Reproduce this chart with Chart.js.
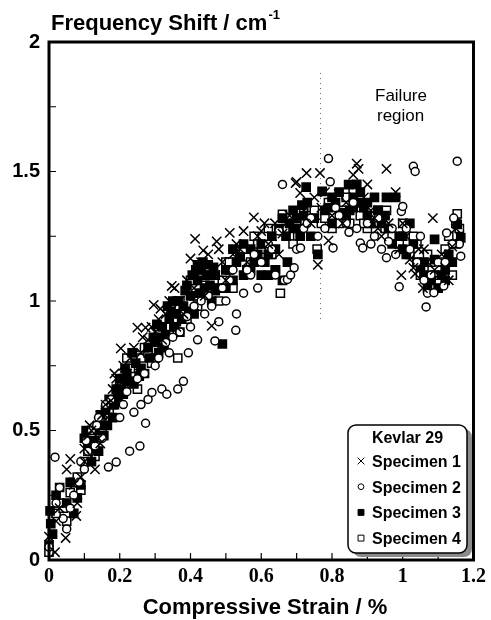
<!DOCTYPE html>
<html>
<head>
<meta charset="utf-8">
<script src="https://cdn.jsdelivr.net/npm/chart.js@4.4.1/dist/chart.umd.min.js"></script>
<style>
  html, body { margin: 0; padding: 0; background: #fff; }
  #chart { display: block; }
</style>
</head>
<body>
<canvas id="chart" width="491" height="620"></canvas>
<script>
// Raman band shift vs compressive strain, Kevlar 29 fibres, four specimens
const seriesNames = ['Specimen 1', 'Specimen 2', 'Specimen 3', 'Specimen 4'];
const legendTitle = 'Kevlar 29';
const minorX = [0.1, 0.2, 0.3, 0.4, 0.5, 0.6, 0.7, 0.8, 0.9, 1.0, 1.1];
const minorY = [0.25, 0.5, 0.75, 1, 1.25, 1.5, 1.75];
const failureStrain = 0.766;
const failureSpan = [0.93, 1.88];

// [strain %, shift cm-1]
const specimen1 = [
  [0.0,0.09],[0.017,0.03],[0.047,0.085],[0.02,0.15],[0.05,0.35],[0.06,0.39],[0.07,0.29],[0.077,0.17],
  [0.08,0.22],[0.09,0.32],[0.1,0.43],[0.11,0.48],[0.115,0.52],[0.12,0.40],[0.13,0.35],[0.14,0.47],
  [0.15,0.56],[0.16,0.6],[0.175,0.615],[0.18,0.66],[0.19,0.7],[0.2,0.69],[0.203,0.817],[0.21,0.75],
  [0.22,0.72],[0.23,0.78],[0.25,0.897],[0.26,0.8],[0.273,0.897],[0.28,0.85],[0.296,0.985],[0.3,0.88],
  [0.31,0.93],[0.32,0.85],[0.33,0.95],[0.347,1.058],[0.35,0.97],[0.36,0.9],[0.37,1.0],[0.38,0.95],
  [0.4,1.164],[0.41,1.05],[0.413,1.24],[0.42,1.1],[0.436,1.195],[0.44,1.02],[0.46,0.904],[0.47,1.1],
  [0.474,1.23],[0.49,1.15],[0.5,1.08],[0.511,1.263],[0.52,1.18],[0.54,1.2],[0.56,1.15],[0.579,1.323],
  [0.59,1.25],[0.609,1.30],[0.62,1.22],[0.639,1.30],[0.65,1.18],[0.66,1.26],[0.68,1.33],[0.697,1.455],
  [0.70,1.46],[0.71,1.417],[0.728,1.494],[0.74,1.3],[0.76,1.14],[0.766,1.494],[0.77,1.36],[0.79,1.233],
  [0.80,1.33],[0.819,1.413],[0.83,1.3],[0.86,1.487],[0.87,1.53],[0.875,1.51],[0.89,1.4],[0.91,1.35],
  [0.93,1.28],[0.954,1.51],[0.96,1.3],[0.98,1.42],[0.99,1.2],[0.996,1.10],[1.01,1.25],[1.03,1.128],
  [1.035,1.105],[1.045,1.2],[1.057,1.05],[1.07,1.15],[1.085,1.32],[1.1,1.1],[1.12,1.13],[1.14,1.21],
  [1.16,1.25],
  [0.03,0.2],[0.1,0.38],[0.12,0.5],[0.145,0.45],[0.165,0.55],[0.185,0.72],[0.215,0.68],[0.24,0.82],
  [0.265,0.86],[0.29,0.9],[0.315,0.97],[0.34,1.0],[0.355,1.05],[0.39,1.08],[0.43,1.15],[0.45,1.18],
  [0.48,1.2],[0.53,1.22],[0.55,1.27],[0.6,1.27],[0.63,1.25],[0.67,1.3],[0.72,1.35],[0.75,1.4],
  [0.78,1.42],[0.84,1.38],[0.9,1.45],[0.92,1.32],[0.94,1.25],[1.0,1.3],[1.02,1.16],[1.06,1.2],
  [1.09,1.12],[1.11,1.18],[1.13,1.08],[1.15,1.28]
];
const specimen2 = [
  [0.0,0.05],[0.017,0.397],[0.02,0.22],[0.03,0.28],[0.05,0.12],[0.06,0.2],[0.07,0.25],[0.085,0.3],
  [0.1,0.35],[0.11,0.42],[0.12,0.5],[0.13,0.44],[0.14,0.55],[0.15,0.47],[0.16,0.6],[0.168,0.359],
  [0.19,0.378],[0.2,0.55],[0.21,0.6],[0.228,0.42],[0.24,0.57],[0.257,0.44],[0.26,0.6],[0.273,0.528],
  [0.28,0.62],[0.291,0.647],[0.3,0.75],[0.319,0.66],[0.333,0.64],[0.34,0.8],[0.35,0.86],[0.364,0.66],
  [0.38,0.69],[0.394,0.8],[0.4,0.9],[0.41,0.98],[0.42,0.85],[0.44,0.95],[0.45,1.02],[0.469,0.846],
  [0.48,0.92],[0.5,1.0],[0.51,1.08],[0.528,0.887],[0.53,0.95],[0.55,1.03],[0.57,1.1],[0.59,1.05],
  [0.6,1.15],[0.62,1.22],[0.64,1.1],[0.66,1.45],[0.665,1.08],[0.674,1.083],[0.683,1.10],[0.693,1.128],
  [0.70,1.2],[0.711,1.205],[0.72,1.28],[0.74,1.32],[0.76,1.25],[0.79,1.55],[0.795,1.46],[0.803,1.205],
  [0.82,1.33],[0.848,1.265],[0.86,1.38],[0.88,1.224],[0.887,1.205],[0.9,1.3],[0.92,1.25],[0.94,1.2],
  [0.954,1.167],[0.97,1.28],[0.99,1.055],[0.996,1.346],[1.0,1.365],[1.02,1.2],[1.03,1.52],[1.035,1.50],
  [1.05,1.25],[1.066,0.977],[1.07,1.03],[1.088,1.032],[1.1,1.15],[1.116,1.058],[1.124,1.263],[1.144,1.32],
  [1.154,1.54],[1.164,1.173],[1.16,1.22],
  [0.04,0.16],[0.09,0.38],[0.105,0.46],[0.135,0.52],[0.175,0.62],[0.22,0.65],[0.25,0.7],[0.27,0.72],
  [0.31,0.78],[0.33,0.84],[0.37,0.88],[0.39,0.94],[0.43,1.0],[0.46,0.98],[0.49,1.05],[0.52,1.12],
  [0.56,1.12],[0.58,1.18],[0.63,1.2],[0.65,1.27],[0.73,1.3],[0.78,1.28],[0.81,1.36],[0.84,1.3],
  [0.87,1.28],[0.91,1.22],[0.93,1.32],[0.96,1.23],[0.98,1.18],[1.01,1.28],[1.04,1.15],[1.06,1.08],
  [1.08,1.1],[1.12,1.15],[1.14,1.22]
];
const specimen3 = [
  [0.003,0.19],[0.005,0.14],[0.0,0.058],[0.01,0.1],[0.02,0.25],[0.03,0.28],[0.05,0.22],[0.06,0.3],
  [0.07,0.18],[0.08,0.24],[0.09,0.29],[0.1,0.47],[0.11,0.45],[0.12,0.38],[0.13,0.5],[0.14,0.42],
  [0.15,0.52],[0.16,0.58],[0.17,0.62],[0.18,0.55],[0.19,0.66],[0.2,0.7],[0.21,0.64],[0.22,0.72],
  [0.235,0.8],[0.24,0.68],[0.26,0.74],[0.27,0.72],[0.28,0.82],[0.3,0.84],[0.31,0.8],[0.32,0.9],
  [0.33,0.87],[0.34,0.93],[0.36,0.95],[0.37,0.88],[0.38,0.98],[0.4,1.02],[0.41,0.95],[0.42,1.08],
  [0.43,1.12],[0.44,1.05],[0.46,1.0],[0.47,1.1],[0.49,0.834],[0.5,1.05],[0.51,1.12],[0.53,1.15],
  [0.55,1.1],[0.57,1.2],[0.58,1.15],[0.6,1.22],[0.62,1.18],[0.63,1.25],[0.65,1.28],[0.66,1.08],
  [0.674,1.15],[0.69,1.35],[0.7,1.32],[0.715,1.37],[0.727,1.44],[0.74,1.25],[0.76,1.18],[0.772,1.423],
  [0.78,1.35],[0.8,1.3],[0.82,1.42],[0.847,1.449],[0.85,1.35],[0.87,1.45],[0.88,1.38],[0.9,1.33],
  [0.92,1.4],[0.94,1.3],[0.954,1.40],[0.98,1.40],[0.99,1.25],[1.0,1.2],[1.02,1.3],[1.04,1.15],
  [1.06,1.1],[1.08,1.08],[1.09,1.238],[1.1,1.05],[1.12,1.12],[1.13,1.18],[1.154,1.296],[1.164,1.244],
  [0.105,0.5],[0.115,0.43],[0.125,0.46],[0.145,0.56],[0.155,0.48],[0.165,0.52],[0.185,0.6],[0.195,0.63],
  [0.205,0.66],[0.215,0.74],[0.225,0.69],[0.245,0.76],[0.255,0.71],[0.285,0.78],[0.295,0.86],[0.305,0.91],
  [0.315,0.86],[0.325,0.82],[0.345,0.96],[0.355,0.9],[0.365,1.0],[0.375,0.93],[0.385,1.04],[0.395,0.96],
  [0.405,1.1],[0.415,1.12],[0.425,1.03],[0.435,1.15],[0.445,1.1],[0.455,1.06],[0.465,1.13],[0.48,1.05],
  [0.52,1.08],[0.54,1.17],[0.56,1.12],[0.59,1.18],[0.61,1.15],[0.64,1.2],[0.67,1.25],[0.68,1.3],
  [0.705,1.28],[0.72,1.33],[0.79,1.36],[0.81,1.38],[0.83,1.34],[0.86,1.4],[0.89,1.36],[0.91,1.3],
  [0.93,1.35],[0.96,1.28],[0.97,1.22],[1.01,1.18],[1.03,1.22],[1.05,1.13],[1.07,1.05],[1.11,1.1],
  [1.14,1.15],[1.15,1.22],
  [0.335,0.98],[0.35,1.0],[0.39,1.06],[0.42,1.14],[0.45,1.14],[0.47,1.04],[0.5,1.12],[0.52,1.2],
  [0.55,1.22],[0.57,1.12],[0.6,1.1],[0.62,1.1],[0.64,1.12],[0.66,1.32],[0.69,1.28],[0.71,1.25],
  [0.73,1.38],[0.75,1.32],[0.8,1.4],[0.84,1.32],[0.86,1.36],[0.88,1.42],[0.9,1.38],[0.95,1.33],
  [1.0,1.25],[1.06,1.15],[1.09,1.16],[1.12,1.08]
];
const specimen4 = [
  [0.0,0.03],[0.02,0.18],[0.04,0.2],[0.05,0.15],[0.06,0.26],[0.07,0.3],[0.09,0.27],[0.1,0.38],
  [0.12,0.45],[0.13,0.4],[0.14,0.5],[0.16,0.55],[0.17,0.58],[0.19,0.62],[0.2,0.67],[0.21,0.7],
  [0.22,0.78],[0.24,0.72],[0.25,0.66],[0.26,0.78],[0.28,0.8],[0.3,0.78],[0.31,0.88],[0.32,0.83],
  [0.34,0.88],[0.35,0.95],[0.364,0.78],[0.37,1.0],[0.39,0.93],[0.4,1.08],[0.42,0.98],[0.43,1.03],
  [0.45,1.12],[0.47,1.05],[0.48,1.0],[0.5,1.15],[0.52,1.05],[0.54,1.18],[0.56,1.12],[0.58,1.25],
  [0.6,1.2],[0.62,1.28],[0.64,1.12],[0.654,1.03],[0.66,1.335],[0.68,1.25],[0.7,1.3],[0.72,1.35],
  [0.758,1.2],[0.77,1.3],[0.79,1.38],[0.8,1.28],[0.83,1.35],[0.85,1.3],[0.86,1.42],[0.88,1.33],
  [0.9,1.28],[0.93,1.35],[0.954,1.35],[0.97,1.25],[1.0,1.3],[1.02,1.18],[1.04,1.22],[1.06,1.12],
  [1.08,1.15],[1.1,1.08],[1.12,1.2],[1.14,1.1],[1.154,1.336],[1.16,1.28],
  [0.03,0.22],[0.08,0.32],[0.11,0.42],[0.15,0.5],[0.18,0.6],[0.23,0.74],[0.27,0.82],[0.29,0.76],
  [0.33,0.9],[0.36,0.92],[0.38,0.96],[0.41,1.02],[0.44,1.06],[0.46,1.1],[0.49,1.08],[0.51,1.15],
  [0.55,1.2],[0.57,1.15],[0.59,1.22],[0.63,1.18],[0.67,1.28],[0.69,1.22],[0.71,1.28],[0.73,1.33],
  [0.75,1.35],[0.78,1.32],[0.82,1.3],[0.84,1.4],[0.87,1.38],[0.89,1.3],[0.92,1.3],[0.95,1.28],
  [0.99,1.22],[1.03,1.25],[1.05,1.1],[1.07,1.18],[1.09,1.1],[1.11,1.15],[1.13,1.25],[1.15,1.3]
];

const SANS = '"Liberation Sans", Arial, Helvetica, sans-serif';
const SERIF = '"Liberation Serif", "Times New Roman", serif';

const toPoints = rows => rows.map(([x, y]) => ({ x, y }));
const plainNumber = v => String(+v.toFixed(2));

const markerStyles = [
  { pointStyle: 'crossRot', radius: 6.6, fill: 'rgba(0,0,0,0)' },
  { pointStyle: 'circle', radius: 4, fill: '#fff' },
  { pointStyle: 'rect', radius: 5.8, fill: '#000' },
  { pointStyle: 'rect', radius: 5.8, fill: '#fff' }
];

const allSeries = [specimen1, specimen2, specimen3, specimen4];

const datasets = allSeries.map((rows, i) => ({
  label: seriesNames[i],
  data: toPoints(rows),
  pointStyle: markerStyles[i].pointStyle,
  pointRadius: markerStyles[i].radius,
  pointBackgroundColor: markerStyles[i].fill,
  pointBorderColor: '#000',
  pointBorderWidth: 1.5,
  showLine: false,
  clip: 8
}));

// frame, inward ticks, titles, failure marker and boxed legend
const decorations = {
  id: 'decorations',
  beforeDatasetsDraw(chart) {
    const { ctx, scales: { x, y } } = chart;
    ctx.save();
    ctx.strokeStyle = '#666';
    ctx.lineWidth = 1;
    ctx.setLineDash([1, 4]);
    const px = Math.round(x.getPixelForValue(failureStrain)) + 0.5;
    ctx.beginPath();
    ctx.moveTo(px, y.getPixelForValue(failureSpan[1]));
    ctx.lineTo(px, y.getPixelForValue(failureSpan[0]));
    ctx.stroke();
    ctx.restore();
  },
  afterDatasetsDraw(chart) {
    const { ctx, chartArea: a, scales: { x, y } } = chart;
    ctx.save();
    ctx.strokeStyle = '#000';
    ctx.lineWidth = 3;
    ctx.strokeRect(a.left, a.top, a.right - a.left, a.bottom - a.top);

    ctx.lineWidth = 1.2;
    ctx.beginPath();
    minorX.forEach(v => {
      const px = x.getPixelForValue(v);
      ctx.moveTo(px, a.bottom);
      ctx.lineTo(px, a.bottom - 7);
    });
    minorY.forEach(v => {
      const py = y.getPixelForValue(v);
      ctx.moveTo(a.left, py);
      ctx.lineTo(a.left + 7, py);
    });
    ctx.stroke();

    // axis titles
    ctx.fillStyle = '#000';
    ctx.textBaseline = 'alphabetic';
    ctx.textAlign = 'left';
    ctx.font = 'bold 22px ' + SANS;
    const yTitle = 'Frequency Shift / cm';
    ctx.fillText(yTitle, 51, 30);
    const w = ctx.measureText(yTitle).width;
    ctx.font = 'bold 13px ' + SANS;
    ctx.fillText('-1', 51 + w + 1, 19);

    ctx.textAlign = 'center';
    ctx.font = 'bold 22px ' + SANS;
    ctx.fillText('Compressive Strain / %', 265, 614);

    // failure note
    ctx.textAlign = 'left';
    ctx.font = '17px ' + SANS;
    ctx.fillText('Failure', 375, 101);
    ctx.fillText('region', 377, 121);

    // legend box
    const lx = 348, ly = 425, lw = 119, lh = 128;
    ctx.fillStyle = '#8a8a8a';
    ctx.beginPath();
    ctx.roundRect(lx + 5, ly + 4, lw, lh, 8);
    ctx.fill();
    ctx.fillStyle = '#fff';
    ctx.strokeStyle = '#000';
    ctx.lineWidth = 1.5;
    ctx.beginPath();
    ctx.roundRect(lx, ly, lw, lh, 8);
    ctx.fill();
    ctx.stroke();

    ctx.fillStyle = '#000';
    ctx.textAlign = 'center';
    ctx.font = 'bold 16px ' + SANS;
    ctx.fillText(legendTitle, lx + lw / 2, ly + 18);

    ctx.textAlign = 'left';
    chart.data.datasets.forEach((ds, i) => {
      const cy = ly + 36 + i * 25.7;
      ctx.fillStyle = markerStyles[i].fill;
      ctx.strokeStyle = '#000';
      ctx.lineWidth = 1;
      Chart.helpers.drawPoint(ctx, {
        pointStyle: markerStyles[i].pointStyle,
        radius: markerStyles[i].radius * 0.72,
        borderWidth: 1
      }, lx + 13, cy);
      ctx.fillStyle = '#000';
      ctx.fillText(ds.label, lx + 24, cy + 6);
    });
    ctx.restore();
  }
};

const config = {
  type: 'scatter',
  data: { datasets },
  options: {
    responsive: false,
    animation: false,
    layout: { padding: { top: 42, right: 14, left: 0, bottom: 0 } },
    plugins: {
      legend: { display: false },
      tooltip: { enabled: false }
    },
    scales: {
      x: {
        type: 'linear',
        min: 0,
        max: 1.2,
        afterFit: s => { s.height = 60; },
        grid: { display: false, drawTicks: false },
        border: { display: false },
        ticks: {
          stepSize: 0.2,
          padding: 5,
          color: '#000',
          maxRotation: 0,
          callback: plainNumber,
          font: { family: SERIF, size: 20, weight: 'bold' }
        }
      },
      y: {
        min: 0,
        max: 2,
        afterFit: s => { s.width = 49; },
        grid: { display: false, drawTicks: false },
        border: { display: false },
        ticks: {
          stepSize: 0.5,
          padding: 9,
          color: '#000',
          callback: plainNumber,
          font: { family: SANS, size: 20, weight: 'bold' }
        }
      }
    }
  },
  plugins: [decorations]
};

new Chart(document.getElementById('chart'), config);
</script>
</body>
</html>
